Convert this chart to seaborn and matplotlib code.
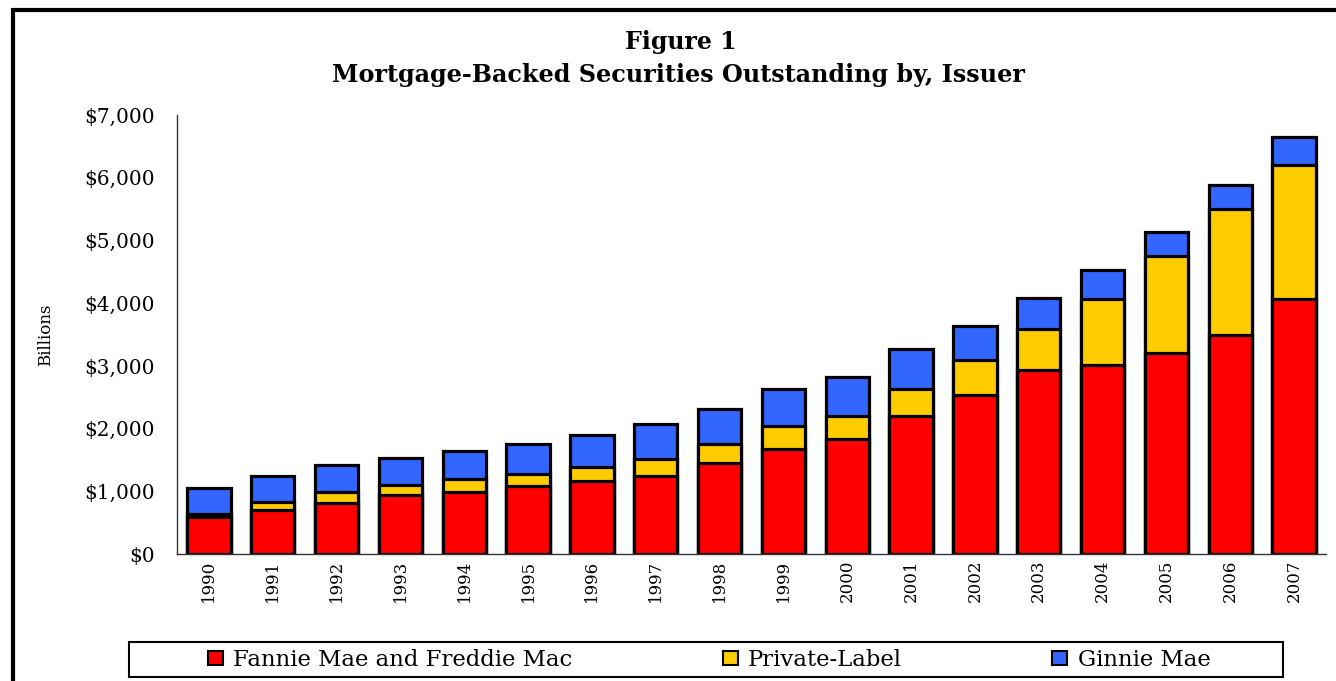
import numpy as np
import pandas as pd
import matplotlib.pyplot as plt
import seaborn as sns
from matplotlib.patches import Rectangle, Patch

years = [str(y) for y in range(1990, 2008)]
fannie_freddie = [600, 700, 815, 950, 995, 1090, 1170, 1245, 1450, 1670, 1840, 2200,
                  2540, 2935, 3020, 3210, 3490, 4075]
private_label = [50, 130, 175, 160, 200, 190, 220, 270, 300, 375, 360, 440,
                 550, 655, 1050, 1540, 2010, 2130]
ginnie_mae = [410, 410, 430, 420, 450, 480, 505, 560, 565, 585, 625, 625,
              550, 490, 455, 385, 390, 450]
series_names = ["Fannie Mae and Freddie Mac", "Private-Label", "Ginnie Mae"]
series_colors = ["#FF0000", "#FFCC00", "#3366FF"]

df = pd.DataFrame({"year": years, "ff": fannie_freddie, "pl": private_label, "gm": ginnie_mae})
df["ff_pl"] = df["ff"] + df["pl"]
df["total"] = df["ff_pl"] + df["gm"]

sns.set_style("white")
plt.rcParams["font.family"] = ["DejaVu Serif"]
plt.rcParams["text.color"] = "black"
plt.rcParams["axes.labelcolor"] = "black"
plt.rcParams["xtick.color"] = "black"
plt.rcParams["ytick.color"] = "black"

W, H = 1336, 681
fig = plt.figure(figsize=(W / 100, H / 100), dpi=100)
ax = fig.add_axes([177 / W, 1 - 554.3 / H, (1326 - 177) / W, (554.3 - 115) / H])

bar_kw = dict(edgecolor="black", linewidth=2.3, width=0.68, saturation=1, ax=ax)
sns.barplot(data=df, x="year", y="total", color=series_colors[2], **bar_kw)
sns.barplot(data=df, x="year", y="ff_pl", color=series_colors[1], **bar_kw)
sns.barplot(data=df, x="year", y="ff", color=series_colors[0], **bar_kw)

ax.set_xlim(-0.5, len(years) - 0.5)
ax.set_ylim(0, 7000)
ax.set_yticks(np.arange(0, 7001, 1000))
ax.set_yticklabels([f"${v:,}" for v in range(0, 7001, 1000)], fontsize=14.5)
ax.set_xticks(range(len(years)))
ax.set_xticklabels(years, rotation=90, fontsize=12)
ax.set_xticks(np.arange(-0.5, len(years), 1), minor=True)
ax.tick_params(axis="x", which="major", length=0, pad=4)
ax.tick_params(axis="x", which="minor", length=7, width=1, color="#333333", direction="out")
ax.tick_params(axis="y", length=6, width=1, color="#333333", direction="out", pad=10)
ax.set_xlabel("")
ax.set_ylabel("Billions", fontsize=12, labelpad=22)
for side in ["top", "right"]:
    ax.spines[side].set_visible(False)
for side in ["left", "bottom"]:
    ax.spines[side].set_color("#333333")
    ax.spines[side].set_linewidth(1)

fig.text(681 / W, 1 - 42 / H, "Figure 1", ha="center", va="center",
         fontsize=17, fontweight="bold")
fig.text(678 / W, 1 - 75 / H, "Mortgage-Backed Securities Outstanding by, Issuer",
         ha="center", va="center", fontsize=17.2, fontweight="bold")

# outer frame (runs off the right and bottom edges)
fig.add_artist(Rectangle((13 / W, -0.2), 1.2, 1.2 - 9.5 / H, transform=fig.transFigure,
                         fill=False, edgecolor="black", linewidth=3))

# legend box
fig.add_artist(Rectangle((129 / W, 1 - 677 / H), (1283 - 129) / W, 35 / H,
                         transform=fig.transFigure, fill=False, edgecolor="black", linewidth=1.5))
handles = [Patch(facecolor=c, edgecolor="black", linewidth=1.5) for c in series_colors]
fig.legend(handles, series_names, loc="center", bbox_to_anchor=(709 / W, 1 - 660 / H),
           ncol=3, frameon=False, fontsize=16.4, handlelength=0.66, handleheight=0.57,
           handletextpad=0.45, columnspacing=6.6)

fig.savefig("out.png", dpi=100)
